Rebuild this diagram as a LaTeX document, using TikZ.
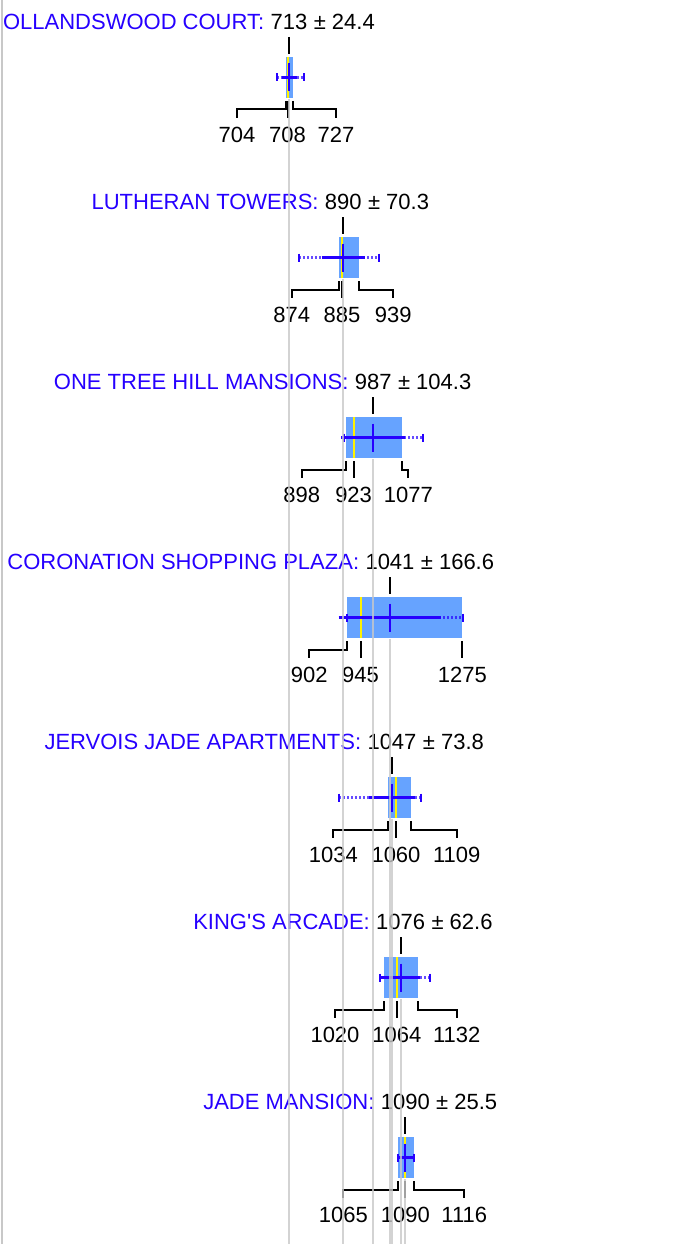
\documentclass[tikz,border=0pt]{standalone}
\usepackage{fontspec}
\setmainfont{Liberation Sans}
\definecolor{inkblue}{RGB}{38,0,255}
\definecolor{boxblue}{RGB}{102,163,255}
\definecolor{rulegray}{RGB}{200,200,200}
\begin{document}
\begin{tikzpicture}[x=1pt,y=-1pt,
  lbl/.style={inner sep=0pt,anchor=base,font=\fontsize{22}{24}\selectfont},
  bracket/.style={black,line width=2pt},
  whisk/.style={inkblue,line width=2.2pt}]

  %page
  \useasboundingbox (0,0) rectangle (696,1244);
  \fill[white] (0,0) rectangle (696,1244);
  \draw[rulegray,line width=2pt] (2,0) -- (2,1244);
  \clip (3,0) rectangle (696,1244);

  % one row per building
  \foreach \k/\nm/\mn/\sd/\mx/\sw/\qa/\md/\qb/\lo/\hi/\la/\lc/\ta/\tb/\tc in {
    0/HOLLANDSWOOD COURT/713/24.4/289/7.5/286.2/287.5/293.3/276.7/304/237/336/704/708/727,
    1/LUTHERAN TOWERS/890/70.3/343.3/21.6/338.5/341.9/358.5/299.3/379.3/291.7/393.3/874/885/939,
    2/ONE TREE HILL MANSIONS/987/104.3/373.3/32.1/346/353.6/401.5/344.3/422.7/301.7/408.3/898/923/1077,
    3/CORONATION SHOPPING PLAZA/1041/166.6/390/51.3/347.3/360.5/462.3/347.3/462.7/309.3/462.3/902/945/1275,
    4/JERVOIS JADE APARTMENTS/1047/73.8/392/22.7/388/396/411/339.3/421.3/333.3/456.7/1034/1060/1109,
    5/KING\textquotesingle S ARCADE/1076/62.6/400.7/19.3/383.5/396.8/418.3/380/430/335/456.7/1020/1064/1132,
    6/JADE MANSION/1090/25.5/405.3/7.8/397.5/405.3/414/397.7/414.3/343.3/464.3/1065/1090/1116}{
    \pgfmathsetmacro{\y}{180*\k}

    %title
    \node[lbl] (mv\k) at (\mx,\y+29.3) {\mn};
    \node[lbl,anchor=base east,text=inkblue] (nm\k) at ([xshift=-6pt]mv\k.base west) {\nm:};
    \node[lbl,anchor=base west] (sd\k) at ([xshift=6pt]mv\k.base east) {± \sd};
    \draw[bracket] ([yshift=-7.7pt]mv\k.base) -- ++(0,17);

    %box and median
    \fill[boxblue] (\qa,\y+57) rectangle (\qb,\y+98);
    \draw[yellow,line width=2pt] (\md,\y+57) -- (\md,\y+98);

    %whisker
    \draw[whisk,dash pattern=on 2pt off 2pt,opacity=.7] (\lo,\y+77.5) -- (\hi,\y+77.5);
    \draw[whisk] (\mx-\sw,\y+77.5) -- (\mx+\sw,\y+77.5);
    \draw[whisk] (\lo,\y+73.5) -- (\lo,\y+81.5) (\hi,\y+73.5) -- (\hi,\y+81.5);
    \draw[whisk] (\mx,\y+63.5) -- (\mx,\y+91.5);

    %quartile labels
    \node[lbl] (lo\k) at (\la,\y+142.7) {\ta};
    \node[lbl] (md\k) at (\md,\y+142.7) {\tb};
    \node[lbl] (hi\k) at (\lc,\y+142.7) {\tc};
    \draw[bracket] (\qa,\y+101) -- (\qa,\y+109.5) -| ([yshift=9pt]lo\k.north);
    \draw[bracket] (\md,\y+101) -- ([yshift=9pt]md\k.north);
    \draw[bracket] (\qb,\y+101) -- (\qb,\y+109.5) -| ([yshift=9pt]hi\k.north);
  }

  %mean rules
  \foreach \mx/\k in {289/0,343.3/1,373.3/2,390/3,392/4,400.7/5,405.3/6}
    \draw[rulegray,line width=2pt,opacity=.8] (\mx,180*\k+99) -- (\mx,1244);
\end{tikzpicture}
\end{document}
